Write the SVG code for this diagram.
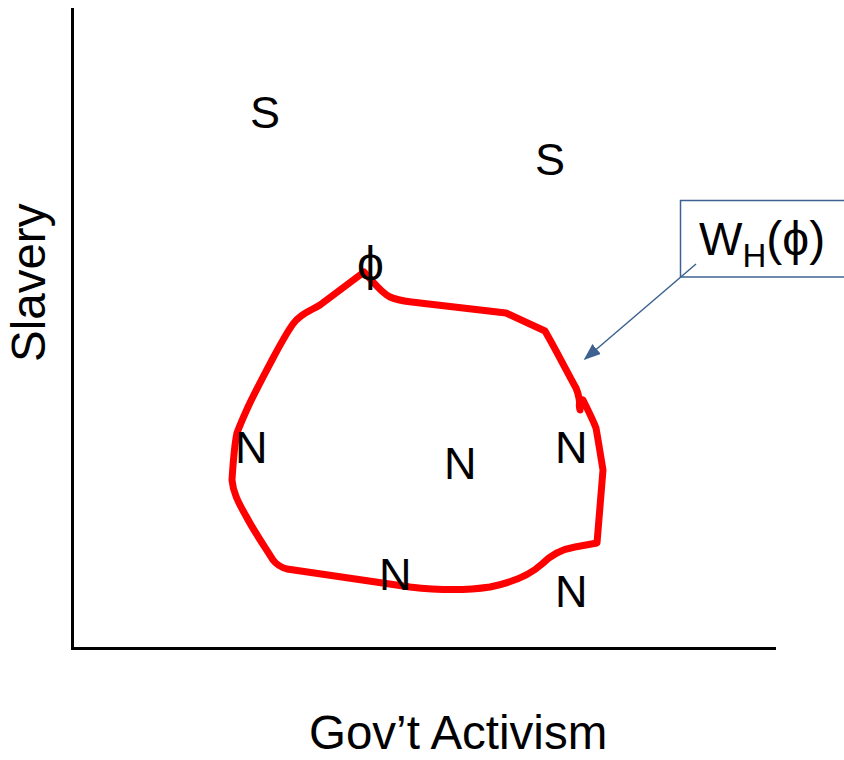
<svg xmlns="http://www.w3.org/2000/svg" width="844" height="760" viewBox="0 0 844 760">
<style>
.t{font-family:"Liberation Sans",Arial,sans-serif;fill:#000}
.ax{stroke:#000;stroke-width:3;fill:none}
.blob{stroke:#ff0000;stroke-width:7;fill:none;stroke-linejoin:round;stroke-linecap:round}
.call{stroke:#3d6290;stroke-width:1.5;fill:none}
</style>
<defs>
<marker id="ah" viewBox="0 0 10 10" refX="9" refY="5" markerWidth="17" markerHeight="13" markerUnits="userSpaceOnUse" orient="auto" preserveAspectRatio="none">
<path d="M0,0 L10,5 L0,10 Z" fill="#3d6290"/>
</marker>
</defs>
<rect width="844" height="760" fill="#fff"/>
<g id="axes">
<line class="ax" x1="72.5" y1="8" x2="72.5" y2="649.5"/>
<line class="ax" x1="71" y1="648.5" x2="776" y2="648.5"/>
</g>
<text id="xlabel" class="t" x="309" y="749" font-size="47.5">Gov’t Activism</text>
<text id="ylabel" class="t" font-size="47.5" transform="translate(45,362) rotate(-90)">Slavery</text>
<g id="region">
<path class="blob" d="M364,272 C372,280 380,292 390,297 C398,301 405,301 420,303 L506,313 L545,331 C556,350 566,370 576,388 C579,395 580,403 580,410 C578,402 581,398 583,400 C588,410 593,420 596,428 C599,445 601,458 603,470 L597,543 L575,547 C563,549 553,553 542,564 C530,575 515,582 490,587 C470,590 445,591 410,587 L287,569 C280,567 276,564 273,560 C265,547 255,533 246,516 C238,502 233,492 232,480 C233,465 234,447 237,433 C240,425 243,418 248,407 C255,392 263,377 272,360 C280,345 287,332 293,324 C300,314 310,311 320,305 Z"/>
</g>
<g id="labels">
<text class="t" x="250" y="128" font-size="45">S</text>
<text class="t" x="535" y="175" font-size="45">S</text>
<text class="t" x="357" y="280" font-size="48">ϕ</text>
<text class="t" x="235" y="463" font-size="45">N</text>
<text class="t" x="444" y="479" font-size="45">N</text>
<text class="t" x="555" y="463" font-size="45">N</text>
<text class="t" x="379" y="590" font-size="45">N</text>
<text class="t" x="555" y="607" font-size="45">N</text>
</g>
<g id="callout">
<rect class="call" x="680.5" y="200.5" width="180" height="76.5" fill="#fff"/>
<text class="t" x="699" y="255" font-size="46">W<tspan font-size="33" dy="12">H</tspan><tspan dy="-12" font-size="48">(ϕ)</tspan></text>
</g>
<g id="connectors">
<line class="call" x1="696" y1="264" x2="585" y2="359" marker-end="url(#ah)"/>
</g>
</svg>
